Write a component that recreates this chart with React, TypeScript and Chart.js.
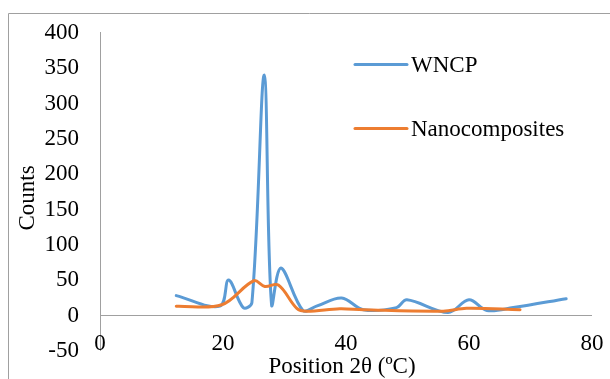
import React, { useEffect, useRef } from "react";
import { Chart, registerables } from "chart.js";

Chart.register(...registerables);

// Data
const wncpX = [12.4, 19.5, 20.9, 23.3, 24.7, 26.7, 27.9, 29.4, 33.0, 35.2, 39.3, 42.8, 48.2, 49.9, 56.6, 60.0, 62.9, 67.2, 75.8];
const wncpY = [27, 12, 49, 10, 17, 339, 14, 66, 6, 12, 23.6, 7, 10, 21, 3, 21, 6, 10, 22.6];
const nanoX = [12.4, 19.8, 25.0, 26.8, 29.0, 32.0, 33.6, 39.0, 42.8, 55.8, 59.6, 68.3];
const nanoY = [12, 14, 48, 40, 42, 9, 5, 8.5, 7, 5, 9, 7];
const seriesNames = ["WNCP", "Nanocomposites"];
const seriesColors = ["#5B9BD5", "#ED7D31"];
const xTicks = [0, 20, 40, 60, 80];
const yTicks = [-50, 0, 50, 100, 150, 200, 250, 300, 350, 400];
const xTitle = "Position 2θ (ºC)";
const yTitle = "Counts";

const FONT = '23px "Liberation Serif", "Times New Roman", serif';
const AXIS = "#A0A0A0";

const decorPlugin = {
  id: "decor",
  afterDraw(chart: any) {
    const ctx = chart.ctx;
    const xs = chart.scales.x;
    const ys = chart.scales.y;
    const area = chart.chartArea;
    ctx.save();
    // outer frame
    ctx.strokeStyle = AXIS;
    ctx.lineWidth = 1;
    ctx.beginPath();
    ctx.moveTo(8.5, chart.height);
    ctx.lineTo(8.5, 13.5);
    ctx.lineTo(chart.width, 13.5);
    ctx.stroke();
    // horizontal axis at y = 0
    const y0 = Math.round(ys.getPixelForValue(0)) + 0.5;
    ctx.beginPath();
    ctx.moveTo(xs.getPixelForValue(xTicks[0]), y0);
    ctx.lineTo(xs.getPixelForValue(xTicks[xTicks.length - 1]), y0);
    ctx.stroke();

    ctx.fillStyle = "#000";
    ctx.font = FONT;
    // y tick labels
    ctx.textAlign = "right";
    ctx.textBaseline = "middle";
    for (const v of yTicks) {
      ctx.fillText(String(v), area.left - 21, ys.getPixelForValue(v) + 1);
    }
    // x tick labels
    ctx.textAlign = "center";
    for (const v of xTicks) {
      ctx.fillText(String(v), xs.getPixelForValue(v), area.bottom - 6);
    }
    // x title
    ctx.fillText(xTitle, (area.left + area.right) / 2 - 4, area.bottom + 17);
    // y title
    ctx.save();
    ctx.translate(28, (area.top + area.bottom) / 2 + 7);
    ctx.rotate(-Math.PI / 2);
    ctx.fillText(yTitle, 0, 0);
    ctx.restore();

    // legend
    const legendY = [64.5, 128.5];
    for (let i = 0; i < seriesNames.length; i++) {
      ctx.strokeStyle = seriesColors[i];
      ctx.lineWidth = 3;
      ctx.lineCap = "round";
      ctx.beginPath();
      ctx.moveTo(355, legendY[i]);
      ctx.lineTo(407, legendY[i]);
      ctx.stroke();
      ctx.textAlign = "left";
      ctx.textBaseline = "middle";
      ctx.fillText(seriesNames[i], 411, legendY[i] + 1);
    }
    ctx.restore();
  },
};

export default function App() {
  const ref = useRef<HTMLCanvasElement | null>(null);
  useEffect(() => {
    if (!ref.current) return;
    const chart = new Chart(ref.current, {
      type: "line",
      data: {
        datasets: [
          {
            label: seriesNames[0],
            data: wncpX.map((x, i) => ({ x, y: wncpY[i] })),
            borderColor: seriesColors[0],
            backgroundColor: seriesColors[0],
            borderWidth: 3,
            pointRadius: 0,
            tension: 0.35,
            borderCapStyle: "round",
            borderJoinStyle: "round",
            order: 2,
          },
          {
            label: seriesNames[1],
            data: nanoX.map((x, i) => ({ x, y: nanoY[i] })),
            borderColor: seriesColors[1],
            backgroundColor: seriesColors[1],
            borderWidth: 3,
            pointRadius: 0,
            tension: 0.35,
            borderCapStyle: "round",
            borderJoinStyle: "round",
            order: 1,
          },
        ],
      },
      options: {
        responsive: false,
        animation: false,
        devicePixelRatio: 1,
        layout: { padding: { left: 8, right: 18, top: 32, bottom: 0 } },
        plugins: { legend: { display: false }, tooltip: { enabled: false } },
        scales: {
          x: {
            type: "linear",
            min: 0,
            max: 80,
            grid: { display: false },
            border: { display: false },
            ticks: { display: false },
            afterFit: (s: any) => {
              s.height = 29;
            },
          },
          y: {
            type: "linear",
            min: -50,
            max: 400,
            grid: { display: false },
            border: { display: true, color: AXIS, width: 1 },
            ticks: { display: false },
            afterFit: (s: any) => {
              s.width = 92;
            },
          },
        },
      },
      plugins: [decorPlugin],
    } as any);
    return () => chart.destroy();
  }, []);
  return (
    <div style={{ position: "fixed", left: 0, top: 0, width: 610, height: 379, background: "#fff" }}>
      <canvas ref={ref} width={610} height={379} style={{ display: "block" }} />
    </div>
  );
}
